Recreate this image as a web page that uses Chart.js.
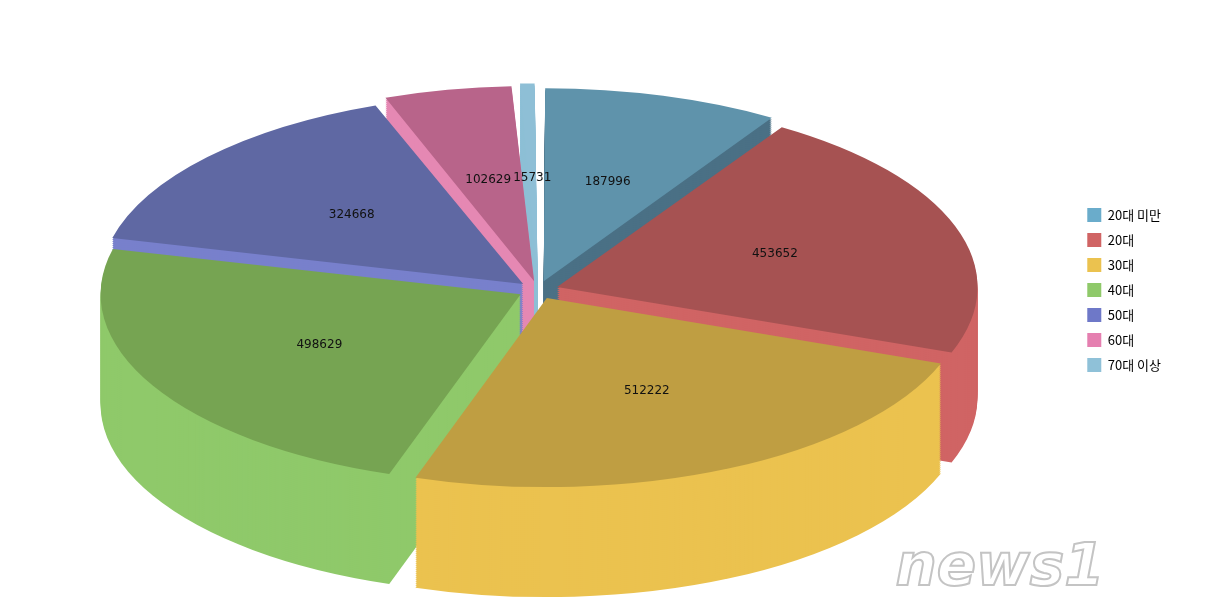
<!DOCTYPE html>
<html><head><meta charset="utf-8">
<script src="https://cdn.jsdelivr.net/npm/chart.js@4"></script>
<style>html,body{margin:0;background:#fff}#w{width:1211px;height:610px}</style>
</head><body><div id="w"><canvas id="c"></canvas></div>
<script>
const categories=['20대 미만','20대','30대','40대','50대','60대','70대 이상'];
const values=[187996,453652,512222,498629,324668,102629,15731];
const topColors=['#5f93ab','#a65252','#bf9e42','#76a452','#5f68a3','#b8648a','#8ebfd6'];
const sideColors=['#4a7085','#d06464','#ebc24f','#8fc96a','#7880cc','#e588b3','#8ebfd6'];
const legendColors=['#6aaccb','#d06464','#ebc24f','#8fc96a','#6e78c8','#e57fb0','#8fc1d8'];
const SX=2.0,SY=0.9,DEPTH=110;
const pie3d={id:'pie3d',
 beforeDatasetsDraw(chart){
  const ctx=chart.ctx,meta=chart.getDatasetMeta(0);
  const a=chart.chartArea,cx=(a.left+a.right)/2,cy=(a.top+a.bottom)/2;
  for(let d=DEPTH;d>0;d-=2){
   ctx.save();ctx.translate(cx,cy+d);ctx.scale(SX,SY);ctx.translate(-cx,-cy);
   meta.data.forEach((arc,i)=>{const o=arc.options.backgroundColor;arc.options.backgroundColor=sideColors[i];arc.draw(ctx);arc.options.backgroundColor=o;});
   ctx.restore();
  }
  ctx.save();ctx.translate(cx,cy);ctx.scale(SX,SY);ctx.translate(-cx,-cy);
  meta.data.forEach(arc=>arc.draw(ctx));
  ctx.restore();
  ctx.save();ctx.font='12px "DejaVu Sans"';ctx.fillStyle='#111';ctx.textAlign='center';ctx.textBaseline='middle';
  meta.data.forEach((arc,i)=>{const p=arc.tooltipPosition();ctx.fillText(String(values[i]),cx+(p.x-cx)*SX,cy+(p.y-cy)*SY);});
  ctx.font='italic bold 58px "DejaVu Sans"';ctx.strokeStyle='#c4c4c4';ctx.lineWidth=2;ctx.strokeText('news1',1000,570);
  ctx.restore();
  return false;
 }};
new Chart(document.getElementById('c'),{type:'pie',
 data:{labels:categories,datasets:[{data:values,backgroundColor:topColors,borderWidth:0,offset:40}]},
 options:{responsive:true,maintainAspectRatio:false,animation:false,
  layout:{padding:{top:60,bottom:90,right:40}},
  plugins:{tooltip:{enabled:false},legend:{position:'right',
   labels:{boxWidth:14,boxHeight:14,padding:11,color:'#333',font:{size:13,family:'"Noto Sans CJK KR"'},
    generateLabels:()=>categories.map((c,i)=>({text:c,fillStyle:legendColors[i],strokeStyle:legendColors[i],lineWidth:0,index:i}))}}}},
 plugins:[pie3d]});
</script></body></html>
